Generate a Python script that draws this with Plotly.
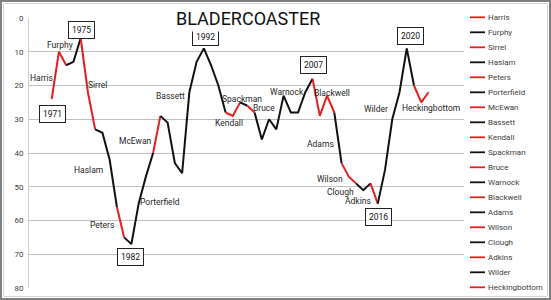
import plotly.graph_objects as go

# ---------------- data ----------------
years = list(range(1971, 2024))
positions = [24, 10, 14, 13, 6, 22, 33, 34, 42, 56,
             65, 67, 55, 47, 40, 29, 31, 43, 46, 22,
             13, 9, 14, 20, 28, 29, 25, 26, 28, 36,
             30, 33, 23, 28, 28, 22, 18, 29, 23, 28,
             43, 47, 49, 51, 49, 55, 45, 30, 22, 9,
             20, 25, 22]
managers = ["Harris", "Furphy", "Sirrel", "Haslam", "Peters", "Porterfield",
            "McEwan", "Bassett", "Kendall", "Spackman", "Bruce", "Warnock",
            "Blackwell", "Adams", "Wilson", "Clough", "Adkins", "Wilder",
            "Heckingbottom"]
mgr_start = [1971, 1973, 1975, 1977, 1980, 1981, 1985, 1986, 1995, 1997,
             1998, 1999, 2007, 2010, 2011, 2013, 2015, 2016, 2021]
mgr_end = [1973, 1975, 1977, 1980, 1981, 1985, 1986, 1995, 1997, 1998,
           1999, 2007, 2010, 2011, 2013, 2015, 2016, 2021, 2023]
year_boxes = [1971, 1975, 1982, 1992, 2007, 2016, 2020]
y_ticks = [0, 10, 20, 30, 40, 50, 60, 70, 80]
title_text = "BLADERCOASTER"

RED = "#e41f1f"
BLACK = "#111111"
colors = [RED if i % 2 == 0 else BLACK for i in range(len(managers))]

# ---------------- layout geometry ----------------
W, H = 551, 300
L, R, T, B = 29, 464, 18, 288


def px(x):
    return (x - L) / (R - L)


def py(y):
    return (B - y) / (B - T)


FONT = "Roboto, Arial, sans-serif"

fig = go.Figure()
for name, s, e, c in zip(managers, mgr_start, mgr_end, colors):
    xs = [yr for yr in years if s <= yr <= e]
    ys = [positions[years.index(yr)] for yr in xs]
    fig.add_trace(go.Scatter(x=xs, y=ys, mode="lines", name=name,
                             line=dict(color=c, width=2),
                             showlegend=False, hoverinfo="skip"))

annotations = []
# manager labels (pixel positions on the canvas)
label_pos = {
    "Harris": (41, 78), "Furphy": (60, 45), "Sirrel": (97, 85),
    "Haslam": (88, 170), "Peters": (102, 225), "Porterfield": (160, 202),
    "McEwan": (135, 141), "Bassett": (170, 96), "Kendall": (229, 123),
    "Spackman": (242, 99), "Bruce": (264, 108), "Warnock": (287, 92),
    "Blackwell": (332, 93), "Adams": (320, 144), "Wilson": (330, 179),
    "Clough": (340, 192), "Adkins": (358, 201), "Wilder": (376, 109),
    "Heckingbottom": (431, 108),
}
for name in managers:
    x0, y0 = label_pos[name]
    annotations.append(dict(x=px(x0), y=py(y0), xref="paper", yref="paper",
                            text=name, showarrow=False,
                            font=dict(family=FONT, size=8.5, color="#262626"),
                            xanchor="center", yanchor="middle"))

box_pos = {1971: (52.5, 114), 1975: (81, 30), 1982: (130, 257),
           1992: (205, 36.5), 2007: (313, 65), 2016: (378, 217),
           2020: (410, 36)}
for yr in year_boxes:
    x0, y0 = box_pos[yr]
    annotations.append(dict(x=px(x0), y=py(y0), xref="paper", yref="paper",
                            text=str(yr), showarrow=False,
                            font=dict(family=FONT, size=8.5, color="#111111"),
                            bgcolor="white", bordercolor="#222222",
                            borderwidth=1, borderpad=3,
                            xanchor="center", yanchor="middle"))

# title
annotations.append(dict(x=px(248), y=py(18), xref="paper", yref="paper",
                        text=title_text, showarrow=False,
                        font=dict(family=FONT, size=18, color="#111111"),
                        bgcolor="white", borderpad=2,
                        xanchor="center", yanchor="middle"))

shapes = []
# manual legend
for i, (name, c) in enumerate(zip(managers, colors)):
    yy = 17.3 + i * 15.0
    shapes.append(dict(type="line", xref="paper", yref="paper",
                       x0=px(470), x1=px(485), y0=py(yy), y1=py(yy),
                       line=dict(color=c, width=1.8)))
    annotations.append(dict(x=px(486), y=py(yy), xref="paper", yref="paper",
                            text=name, showarrow=False,
                            font=dict(family=FONT, size=8, color="#404040"),
                            xanchor="left", yanchor="middle"))

# image border
shapes.append(dict(type="rect", xref="paper", yref="paper",
                   x0=px(1), x1=px(550), y0=py(1), y1=py(299),
                   line=dict(color="#808080", width=2)))
shapes.append(dict(type="rect", xref="paper", yref="paper",
                   x0=px(3.5), x1=px(547.5), y0=py(3.5), y1=py(296.5),
                   line=dict(color="#d6d6d6", width=1)))

fig.update_layout(
    width=W, height=H,
    margin=dict(l=L, r=W - R, t=T, b=H - B, pad=0),
    paper_bgcolor="white", plot_bgcolor="white",
    showlegend=False,
    xaxis=dict(range=[1967.87, 2027.9], showgrid=False, zeroline=False,
               showticklabels=False, ticks="", showline=False, fixedrange=True),
    yaxis=dict(range=[80, 0], tickvals=y_ticks, ticktext=[str(v) for v in y_ticks],
               showgrid=True, gridcolor="#bfbfbf", gridwidth=1, zeroline=False,
               showline=True, linecolor="#d0d0d0", linewidth=1,
               ticks="outside", ticklen=3, tickcolor="white",
               tickfont=dict(family=FONT, size=8, color="#404040"),
               automargin=False, fixedrange=True),
    annotations=annotations,
    shapes=shapes,
)

fig.write_html("out.html")
